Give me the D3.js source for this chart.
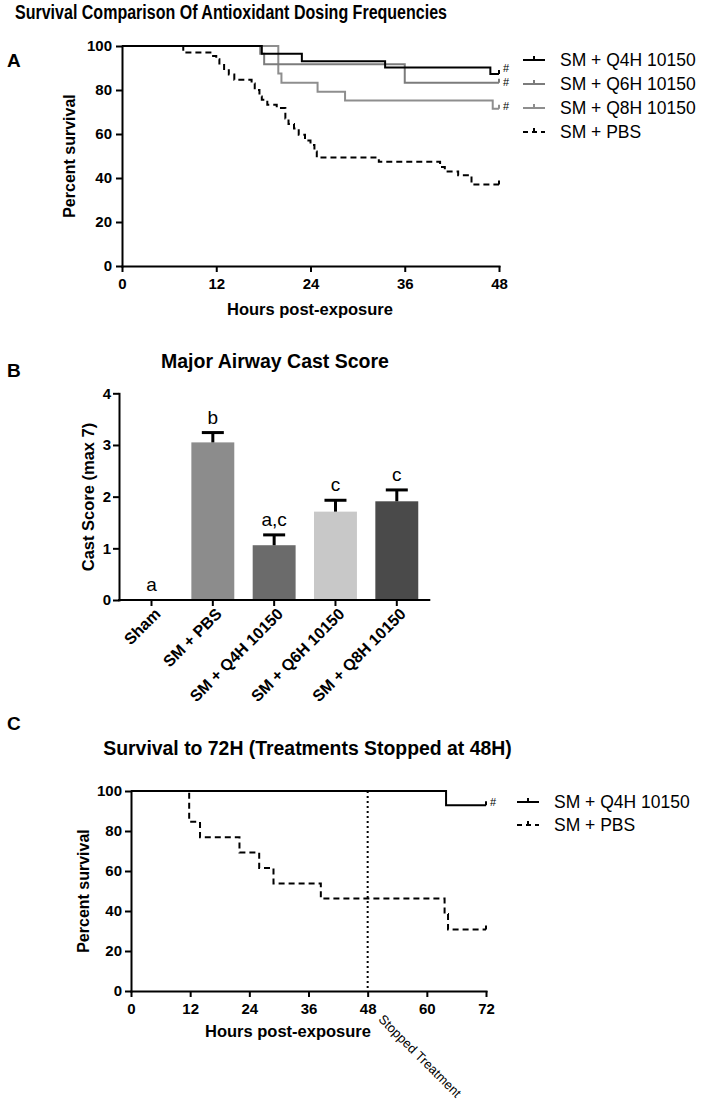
<!DOCTYPE html>
<html><head><meta charset="utf-8">
<script src="https://cdn.jsdelivr.net/npm/d3@7"></script>
<style>
body{margin:0;background:#fff}
svg{display:block}
text{font-family:"Liberation Sans",Arial,Helvetica,sans-serif;fill:#000}
</style>
</head><body>
<svg id="chart" width="702" height="1100"></svg>
<script>
// ---------------- DATA ----------------
// Panel A: Kaplan-Meier steps [hour, percent survival]
const seriesNamesA = ["SM + Q4H 10150", "SM + Q6H 10150", "SM + Q8H 10150", "SM + PBS"];
const q4hA = [[0,100],[17.8,96.5],[22.9,93.1],[33.5,90.2],[46.9,87.3],[48,87.3]];
const q6hA = [[0,100],[17.6,96.5],[18.1,91.7],[36.0,83.3],[48,83.3]];
const q8hA = [[0,100],[19.9,87.5],[20.3,83.3],[24.9,79.2],[28.4,75.2],[47.2,71.5],[48,71.5]];
const pbsA = [[0,100],[7.8,97],[11.6,95.5],[12.0,94],[12.4,92],[13.0,89],[13.6,87],[14.3,84.7],[16.5,83],[16.9,80],[17.5,77],[17.8,75.6],[18.5,73.3],[19.7,71.8],[20.8,67],[21.2,64.5],[21.9,62.5],[22.5,59.7],[23.3,57],[24.0,55],[24.5,52],[24.8,49.3],[32.7,47.4],[40.5,45],[41.1,43],[42.8,41.3],[44.5,37],[48,37]];
const xTicksA = [0, 12, 24, 36, 48];
const yTicksA = [0, 20, 40, 60, 80, 100];
const sigA = ["#", "#", "#", ""];

// Panel B: bar chart
const categoriesB = ["Sham", "SM + PBS", "SM + Q4H 10150", "SM + Q6H 10150", "SM + Q8H 10150"];
const meansB = [0, 3.05, 1.06, 1.71, 1.91];
const semB = [0, 0.19, 0.20, 0.22, 0.22];
const lettersB = ["a", "b", "a,c", "c", "c"];
const yTicksB = [0, 1, 2, 3, 4];

// Panel C
const seriesNamesC = ["SM + Q4H 10150", "SM + PBS"];
const q4hC = [[0,100],[63.9,92.9],[72,92.9]];
const pbsC = [[0,100],[11.8,84.6],[14,76.9],[22,69.2],[26,61.5],[28.9,53.8],[38.5,46.2],[63.6,38.5],[64.3,30.8],[72,30.8]];
const xTicksC = [0, 12, 24, 36, 48, 60, 72];
const yTicksC = [0, 20, 40, 60, 80, 100];
const stopHourC = 48;
const sigC = ["#", ""];

// ---------------- STYLES ----------------
const lineColorsA = ["#000000", "#7c7c7c", "#8e8e8e", "#000000"];
const dashA = [null, null, null, "6,4"];
const sigDyA = [-2, 3, 1, 0];
const barColorsB = ["#ffffff", "#8c8c8c", "#6b6b6b", "#c8c8c8", "#4a4a4a"];
const lineColorsC = ["#000000", "#000000"];
const dashC = [null, "6,4"];
const sigDyC = [1, 0];

const svg = d3.select("#chart");

function styleAxis(g, fs) {
  g.selectAll(".domain").attr("stroke", "#000").attr("stroke-width", 2).attr("stroke-linecap", "square");
  g.selectAll(".tick line").attr("stroke", "#000").attr("stroke-width", 2);
  g.selectAll(".tick text").attr("font-size", fs).attr("font-weight", "bold")
    .attr("font-family", '"Liberation Sans",Arial,sans-serif').attr("fill", "#000");
}

function kmPanel(opts) {
  const {x, y, series, colors, dashes, sig, sigDy, xTicks, yTicks, padY, padX} = opts;
  const gY = svg.append("g").attr("transform", `translate(${x.range()[0]},0)`)
    .call(d3.axisLeft(y).tickValues(yTicks).tickSize(6).tickSizeOuter(0).tickPadding(padY));
  styleAxis(gY, 15);
  const gX = svg.append("g").attr("transform", `translate(0,${y.range()[0]})`)
    .call(d3.axisBottom(x).tickValues(xTicks).tickSize(6).tickSizeOuter(0).tickPadding(padX));
  styleAxis(gX, 15);
  const line = d3.line().x(d => x(d[0])).y(d => y(d[1])).curve(d3.curveStepAfter);
  series.map((s, i) => i).reverse().forEach(i => {
    const s = series[i];
    svg.append("path").attr("d", line(s)).attr("fill", "none")
      .attr("stroke", colors[i]).attr("stroke-width", 2)
      .attr("stroke-dasharray", dashes[i]);
    const last = s[s.length - 1];
    svg.append("line").attr("x1", x(last[0])).attr("x2", x(last[0]))
      .attr("y1", y(last[1])).attr("y2", y(last[1]) - 4)
      .attr("stroke", colors[i]).attr("stroke-width", 2);
    if (sig[i]) {
      svg.append("text").attr("x", x(last[0]) + 4).attr("y", y(last[1]) + sigDy[i])
        .attr("font-size", 11).text(sig[i]);
    }
  });
}

function legend(x0, y0, step, names, colors, dashes) {
  names.forEach((n, i) => {
    const yy = y0 + i * step;
    svg.append("line").attr("x1", x0).attr("x2", x0 + 22).attr("y1", yy).attr("y2", yy)
      .attr("stroke", colors[i]).attr("stroke-width", 2).attr("stroke-dasharray", dashes[i] ? "5,4" : null);
    svg.append("line").attr("x1", x0 + 11).attr("x2", x0 + 11).attr("y1", yy).attr("y2", yy - 4)
      .attr("stroke", colors[i]).attr("stroke-width", 2);
    svg.append("text").attr("x", x0 + 37).attr("y", yy).attr("dy", "0.36em")
      .attr("font-size", 17.5).text(n);
  });
}

// ---------------- PANEL A ----------------
svg.append("text").attr("x", 15).attr("y", 19).attr("font-size", 19.5).attr("font-weight", "bold")
  .attr("font-family", '"Liberation Sans Narrow","Arial Narrow","Liberation Sans",Arial,sans-serif')
  .attr("textLength", 432).attr("lengthAdjust", "spacingAndGlyphs")
  .text("Survival Comparison Of Antioxidant Dosing Frequencies");
svg.append("text").attr("x", 7).attr("y", 67).attr("font-size", 19).attr("font-weight", "bold").text("A");

const xA = d3.scaleLinear().domain([0, 48]).range([122, 499]);
const yA = d3.scaleLinear().domain([0, 100]).range([266, 46]);
kmPanel({x: xA, y: yA, series: [q4hA, q6hA, q8hA, pbsA], colors: lineColorsA, dashes: dashA,
  sig: sigA, sigDy: sigDyA, xTicks: xTicksA, yTicks: yTicksA, padY: 4, padX: 6});
svg.append("text").attr("transform", `translate(75,156) rotate(-90)`).attr("text-anchor", "middle")
  .attr("font-size", 16).attr("font-weight", "bold").text("Percent survival");
svg.append("text").attr("x", 310).attr("y", 315).attr("text-anchor", "middle")
  .attr("font-size", 16.5).attr("font-weight", "bold").text("Hours post-exposure");
legend(523, 60, 24, seriesNamesA, lineColorsA, dashA);

// ---------------- PANEL B ----------------
svg.append("text").attr("x", 7).attr("y", 377).attr("font-size", 19).attr("font-weight", "bold").text("B");
svg.append("text").attr("x", 275).attr("y", 368).attr("text-anchor", "middle")
  .attr("font-size", 19.5).attr("font-weight", "bold").text("Major Airway Cast Score");

const xB = d3.scaleBand().domain(categoriesB).range([119, 429.3]).paddingInner(0.3).paddingOuter(0.18);
const yB = d3.scaleLinear().domain([0, 4]).range([600, 393.3]);

const gYB = svg.append("g").attr("transform", "translate(119,0)")
  .call(d3.axisLeft(yB).tickValues(yTicksB).tickSize(6).tickSizeOuter(0).tickPadding(2).tickFormat(d3.format("d")));
styleAxis(gYB, 15);

const bw = xB.bandwidth();
categoriesB.forEach((c, i) => {
  const cx = xB(c) + bw / 2;
  if (meansB[i] > 0) {
    svg.append("rect").attr("x", xB(c)).attr("width", bw)
      .attr("y", yB(meansB[i])).attr("height", yB(0) - yB(meansB[i])).attr("fill", barColorsB[i]);
    const top = yB(meansB[i] + semB[i]);
    svg.append("line").attr("x1", cx).attr("x2", cx).attr("y1", yB(meansB[i])).attr("y2", top)
      .attr("stroke", "#000").attr("stroke-width", 3);
    svg.append("line").attr("x1", cx - 11).attr("x2", cx + 11).attr("y1", top).attr("y2", top)
      .attr("stroke", "#000").attr("stroke-width", 3);
  }
  const ly = yB(meansB[i] + semB[i]) - 9;
  svg.append("text").attr("x", cx).attr("y", ly).attr("text-anchor", "middle")
    .attr("font-size", 19).text(lettersB[i]);
});

const gXB = svg.append("g").attr("transform", "translate(0,600)")
  .call(d3.axisBottom(xB).tickSize(6).tickSizeOuter(0));
styleAxis(gXB, 16);
gXB.select(".domain").attr("d", `M119,0H429.3`);
gXB.selectAll(".tick text").attr("text-anchor", "end").attr("transform", "translate(6,11) rotate(-45)")
  .attr("x", 0).attr("y", 0).attr("dy", "0.35em");

svg.append("text").attr("transform", `translate(94,497) rotate(-90)`).attr("text-anchor", "middle")
  .attr("font-size", 16.5).attr("font-weight", "bold").text("Cast Score (max 7)");

// ---------------- PANEL C ----------------
svg.append("text").attr("x", 7).attr("y", 730).attr("font-size", 19).attr("font-weight", "bold").text("C");
svg.append("text").attr("x", 103.3).attr("y", 755).attr("font-size", 19.4).attr("font-weight", "bold")
  .text("Survival to 72H (Treatments Stopped at 48H)");

const xC = d3.scaleLinear().domain([0, 72]).range([131, 486]);
const yC = d3.scaleLinear().domain([0, 100]).range([991, 791]);

svg.append("line").attr("x1", xC(stopHourC)).attr("x2", xC(stopHourC)).attr("y1", yC(100)).attr("y2", yC(0))
  .attr("stroke", "#000").attr("stroke-width", 2).attr("stroke-dasharray", "2,3");

kmPanel({x: xC, y: yC, series: [q4hC, pbsC], colors: lineColorsC, dashes: dashC,
  sig: sigC, sigDy: sigDyC, xTicks: xTicksC, yTicks: yTicksC, padY: 3, padX: 6});

svg.append("text").attr("transform", `translate(89,891) rotate(-90)`).attr("text-anchor", "middle")
  .attr("font-size", 16).attr("font-weight", "bold").text("Percent survival");
svg.append("text").attr("x", 288).attr("y", 1037).attr("text-anchor", "middle")
  .attr("font-size", 16.5).attr("font-weight", "bold").text("Hours post-exposure");
svg.append("text").attr("transform", `translate(${xC(stopHourC) + 10},1020) rotate(45)`)
  .attr("font-size", 13).text("Stopped Treatment");

legend(517, 802, 23, seriesNamesC, lineColorsC, dashC);
</script>
</body></html>
